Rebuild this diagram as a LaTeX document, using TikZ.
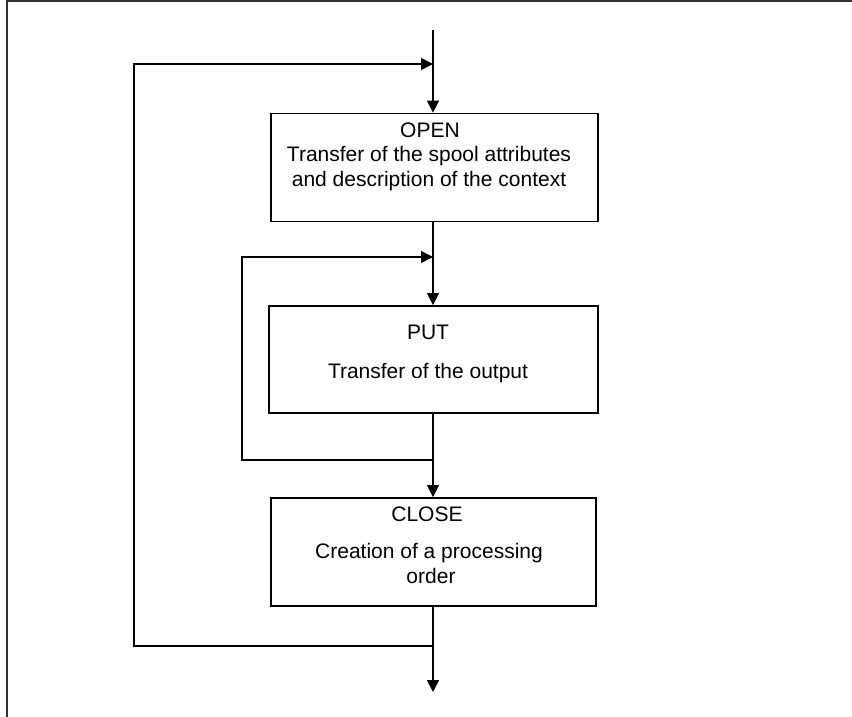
\documentclass[tikz,border=0pt]{standalone}
\usepackage{fontspec}
\setmainfont{Liberation Sans}
\usetikzlibrary{arrows.meta}
\begin{document}
\begin{tikzpicture}[x=1pt,y=-1pt,
  line width=1.6pt,
  box/.style={draw, line width=1.8pt, minimum width=327pt, minimum height=108pt, inner sep=0pt},
  txt/.style={anchor=base, inner sep=0pt, font=\fontsize{21}{26}\selectfont},
  arr/.style={-{Triangle[width=12pt,length=12pt]}}]
\useasboundingbox (0,0) rectangle (852,717);
% frame
\draw[line width=2pt, black!80] (7,717) -- (7,1) -- (852,1);
% boxes
\node[box] (open)  at (434.5,167.5) {};
\node[box, minimum width=329pt, minimum height=107pt] (put) at (433.5,359.5) {};
\node[box, minimum width=325pt] (close) at (433.5,552) {};
% texts
\node[txt] (openT)  at (430,137) {OPEN};
\node[txt] (openB1) at (429,161) {Transfer of the spool attributes};
\node[txt] (openB2) at (429,186) {and description of the context};
\node[txt] (putT)   at (428,339) {PUT};
\node[txt] (putB)   at (428,378) {Transfer of the output};
\node[txt] (closeT) at (427,521) {CLOSE};
\node[txt] (closeB1) at (429,558) {Creation of a processing};
\node[txt] (closeB2) at (431,583) {order};
% junction coordinates
\coordinate (top) at (433,30);
\coordinate (j1) at (433,64);
\coordinate (j2) at (433,257);
\coordinate (j3) at (433,460);
\coordinate (j4) at (433,646);
\coordinate (bot) at (433,692);
\coordinate (o1) at (134,646);
\coordinate (o2) at (134,64);
\coordinate (i1) at (242,460);
\coordinate (i2) at (242,257);
% connectors
\draw[arr] (top) -- (open.north -| top);
\draw[arr] (open.south -| top) -- (put.north -| top);
\draw[arr] (put.south -| top) -- (close.north -| top);
\draw[arr] (close.south -| top) -- (bot);
\draw[arr] (j4) -- (o1) -- (o2) -- (j1);
\draw[arr] (j3) -- (i1) -- (i2) -- (j2);
\end{tikzpicture}
\end{document}
